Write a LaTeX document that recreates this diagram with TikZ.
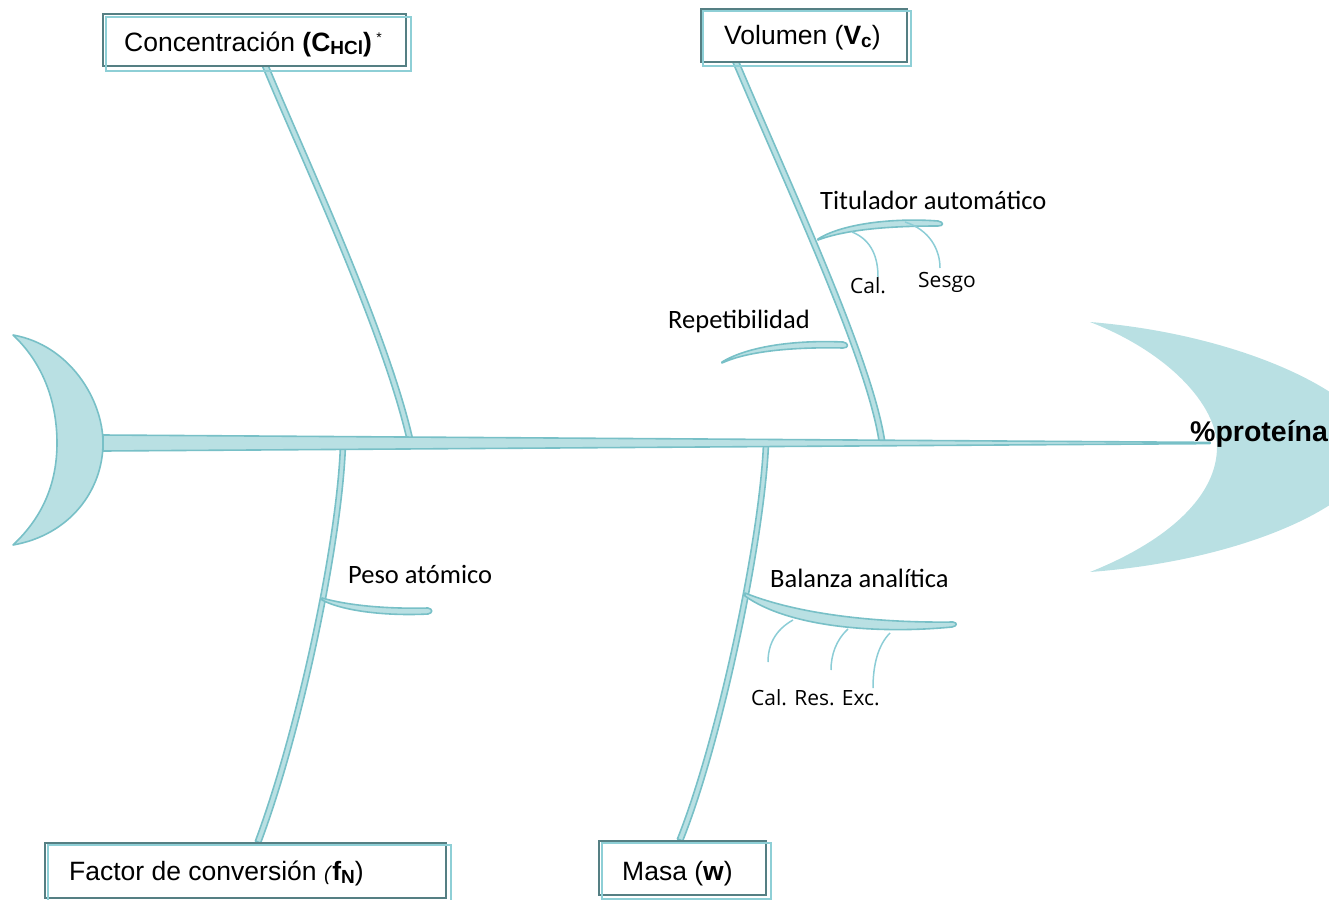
\documentclass[tikz,border=0pt]{standalone}
\usepackage{fontspec}
\setmainfont{Liberation Sans}
\newfontfamily\labelfont{Carlito}
\newfontfamily\handfont{Open Sans}
\usetikzlibrary{calc}

\definecolor{bonefill}{HTML}{B9E0E3}
\definecolor{boneline}{HTML}{78C0C7}
\definecolor{whisker}{HTML}{8CCDD6}
\definecolor{frameDark}{HTML}{557F83}
\definecolor{frameLight}{HTML}{8ECFD6}

\newcommand\lowsub[1]{\raisebox{-3pt}{\fontsize{19}{19}\selectfont #1}}
\newcommand\mainsize{\fontsize{26.5}{30}\selectfont}
\newcommand\handsize{\fontsize{21}{24}\selectfont}

% tapered limb: start, control 1, control 2, end, half width at start, half width at end
\newcommand\limb[6]{%
  \filldraw[bone] ($(#1)!#5!90:(#2)$) .. controls ($(#2)!#5!-90:(#1)$) and ($(#3)!#6!90:(#4)$) ..
    ($(#4)!#6!-90:(#3)$) -- ($(#4)!#6!90:(#3)$) .. controls ($(#3)!#6!-90:(#4)$) and ($(#2)!#5!90:(#1)$) ..
    ($(#1)!#5!-90:(#2)$) -- cycle;}

\tikzset{
  bone/.style={fill=bonefill, draw=boneline, line width=1.6pt, line join=round},
  headfill/.style={fill=bonefill},
  hair/.style={draw=whisker, line width=1.5pt},
  framebox/.style={draw=frameDark, line width=1.7pt, fill=white, inner sep=0pt, anchor=north west},
  frameecho/.style={draw=frameLight, line width=1.7pt},
  caption/.style={anchor=base west, inner sep=0pt, font=\mainsize},
  sublabel/.style={anchor=base west, inner sep=0pt, font=\labelfont\mainsize},
  handlabel/.style={anchor=base west, inner sep=0pt, font=\handfont\handsize},
}

\begin{document}
\begin{tikzpicture}[x=1pt, y=-1pt]
\useasboundingbox (0,0) rectangle (1329,899);
\begin{scope}
\clip (0,0) rectangle (1329,899);

% head of the fish
\fill[headfill] (1090,322) .. controls (1250,335) and (1375,400) .. (1375,447)
  .. controls (1375,500) and (1250,560) .. (1090,572)
  .. controls (1170,540) and (1217,495) .. (1217,447)
  .. controls (1217,405) and (1168,352) .. (1090,322) -- cycle;

% tail
\filldraw[bone] (13,335) .. controls (70,345) and (103,400) .. (103,443)
  .. controls (103,490) and (70,535) .. (13,545)
  .. controls (45,515) and (57,480) .. (57,443)
  .. controls (57,405) and (45,365) .. (13,335) -- cycle;

% end points of the main bones
\coordinate (concTop) at (265,65);
\coordinate (concFoot) at (410,440);
\coordinate (volTop) at (735,60);
\coordinate (volFoot) at (882,442);
\coordinate (factFoot) at (343,444);
\coordinate (factEnd) at (258,842);
\coordinate (masaFoot) at (766,444);
\coordinate (masaEnd) at (680,840);

% main bones
\limb{concTop}{300,150}{385,330}{concFoot}{2.8pt}{2.8pt}
\limb{volTop}{790,190}{870,360}{volFoot}{2.8pt}{2.8pt}
\limb{factFoot}{340,540}{300,730}{factEnd}{2.5pt}{2.8pt}
\limb{masaFoot}{762,540}{720,740}{masaEnd}{2.5pt}{2.8pt}

% spine
\coordinate (spineStart) at (103,443);
\coordinate (spineEnd) at (1210,443);
\filldraw[bone] ($(spineStart)+(0,-8)$) -- ($(spineEnd)+(0,-0.6)$) -- ($(spineEnd)+(0,0.6)$) -- ($(spineStart)+(0,8)$) -- cycle;

% small bones
\filldraw[bone] (818,239) .. controls (845,222) and (900,218) .. (938,221)
  .. controls (944,222) and (944,226) .. (938,226)
  .. controls (900,226) and (850,228) .. (818,240) -- cycle;
\filldraw[bone] (722,362) .. controls (750,345) and (800,340) .. (843,342)
  .. controls (849,343) and (849,348) .. (843,348)
  .. controls (800,347) and (750,350) .. (722,363) -- cycle;
\filldraw[bone] (322,598) .. controls (350,606) and (390,609) .. (428,608)
  .. controls (433,609) and (433,613) .. (428,614)
  .. controls (390,616) and (345,612) .. (322,600) -- cycle;
\filldraw[bone] (745,593) .. controls (800,615) and (880,623) .. (953,622)
  .. controls (958,623) and (957,626) .. (952,627)
  .. controls (880,634) and (790,628) .. (745,596) -- cycle;

% whiskers
\draw[hair] (852,232) .. controls (872,240) and (878,258) .. (878,277);
\draw[hair] (905,222) .. controls (930,230) and (940,250) .. (940,268);
\draw[hair] (793,620) .. controls (775,630) and (768,645) .. (768,662);
\draw[hair] (848,629) .. controls (836,640) and (831,655) .. (831,670);
\draw[hair] (890,633) .. controls (878,645) and (873,665) .. (873,688);
\end{scope}

% frames
\node[framebox, minimum width=303, minimum height=52] (concbox) at (102,13) {};
\draw[frameecho] ($(concbox.north west)+(4,4)$) rectangle ($(concbox.south east)+(4,4)$);
\node[framebox, minimum width=206, minimum height=53] (volbox) at (700,8) {};
\draw[frameecho] ($(volbox.north west)+(3,3)$) rectangle ($(volbox.south east)+(3,3)$);
\node[framebox, minimum width=401, minimum height=55] (factbox) at (44,842) {};
\draw[frameecho] ($(factbox.north west)+(4,3)$) rectangle ($(factbox.south east)+(4,3)$);
\node[framebox, minimum width=167, minimum height=54] (masabox) at (598,840) {};
\draw[frameecho] ($(masabox.north west)+(4,3)$) rectangle ($(masabox.south east)+(4,3)$);

% captions
\node[caption] (conctext) at (124,52) {Concentración \textbf{(C\lowsub{HCl})}\,\raisebox{9pt}{\fontsize{14}{14}\selectfont *}};
\node[caption] (voltext) at (724,45) {Volumen (\textbf{V\lowsub{c}})};
\node[caption] (facttext) at (69,880) {Factor de conversión {\itshape\fontsize{20}{20}\selectfont(}\textbf{f\lowsub{N}})};
\node[caption] (masatext) at (622,880) {Masa (\textbf{w})};
\node[caption, font=\bfseries\fontsize{28.5}{32}\selectfont] (effect) at (1190,441) {\%proteína};

% labels of the small bones
\node[sublabel] (titlabel) at (820,209) {Titulador automático};
\node[sublabel] (replabel) at (668,328) {Repetibilidad};
\node[sublabel] (pesolabel) at (348,583) {Peso atómico};
\node[sublabel] (ballabel) at (770,587) {Balanza analítica};
\node[handlabel] (callabel) at (850,293) {Cal.};
\node[handlabel] (sesgolabel) at (918,287) {Sesgo};
\node[handlabel] (balsub) at (751,705) {Cal. Res. Exc.};
\end{tikzpicture}
\end{document}
